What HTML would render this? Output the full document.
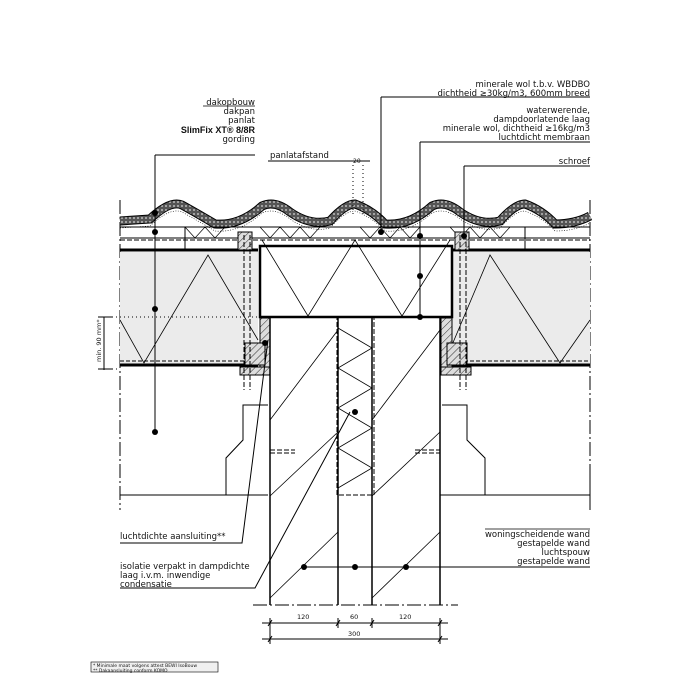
<!DOCTYPE html>
<html><head><meta charset="utf-8"><style>
html,body{margin:0;padding:0;background:#fff}
svg{display:block}
text{font-family:"DejaVu Sans","Liberation Sans",sans-serif;font-size:8.5px;fill:#111}
</style></head><body>
<svg width="700" height="700" viewBox="0 0 700 700" xmlns="http://www.w3.org/2000/svg">
<defs>
<pattern id="hatch" width="5" height="5" patternUnits="userSpaceOnUse" patternTransform="rotate(45)"><rect width="5" height="5" fill="#ddd"/><line x1="0" y1="0" x2="0" y2="5" stroke="#000" stroke-width="0.8"/></pattern>
<pattern id="tile" width="4" height="4" patternUnits="userSpaceOnUse"><rect width="4" height="4" fill="#555"/><circle cx="2" cy="2" r="1" fill="#bbb"/></pattern>
</defs>
<g stroke="#000" fill="none" stroke-width="1">
<line x1="120" y1="200" x2="120" y2="510" stroke-dasharray="14,3,2,3"/>
<line x1="590" y1="200" x2="590" y2="510" stroke-dasharray="14,3,2,3"/>
<path d="M120,221 L150,219 Q170,200 182,205 Q200,215 215,224 Q240,226 262,206 Q275,200 290,212 Q310,226 330,221 Q345,204 355,204 Q372,210 385,224 Q410,226 432,206 Q445,200 460,212 Q480,226 500,221 Q515,204 525,204 Q542,210 555,224 Q575,224 590,216" stroke="#000" stroke-width="9"/>
<path d="M120,221 L150,219 Q170,200 182,205 Q200,215 215,224 Q240,226 262,206 Q275,200 290,212 Q310,226 330,221 Q345,204 355,204 Q372,210 385,224 Q410,226 432,206 Q445,200 460,212 Q480,226 500,221 Q515,204 525,204 Q542,210 555,224 Q575,224 590,216" stroke="url(#tile)" stroke-width="7"/>
<path d="M120,228 L150,226 Q170,207 182,212 Q200,222 215,231 Q240,233 262,213 Q275,207 290,219 Q310,233 330,228 Q345,211 355,211 Q372,217 385,231 Q410,233 432,213 Q445,207 460,219 Q480,233 500,228 Q515,211 525,211 Q542,217 555,231 Q575,231 590,223" stroke-width="0.6" stroke-dasharray="1,1.5"/>
<line x1="120" y1="227" x2="590" y2="227"/>
<line x1="120" y1="238" x2="590" y2="238"/>
<line x1="120" y1="240" x2="590" y2="240" stroke-dasharray="5,2"/>
<path d="M185,227 L195,238 L205,227 L215,238 L225,227 M260,227 L270,238 L280,227 L290,238 L300,227 L310,238 L320,227 M360,227 L370,238 L380,227 L390,238 L400,227 L410,238 L420,227 M450,227 L460,238 L470,227 L480,238 L490,227 L500,238 L510,227" stroke-width="0.7"/>
<line x1="185" y1="227" x2="185" y2="250"/><line x1="525" y1="227" x2="525" y2="250"/>
<rect x="120" y="252" width="138" height="112" fill="#ebebeb" stroke="none"/>
<rect x="452" y="252" width="138" height="112" fill="#ebebeb" stroke="none"/>
<line x1="120" y1="250" x2="258" y2="250" stroke-width="3"/>
<line x1="120" y1="365" x2="258" y2="365" stroke-width="3"/>
<line x1="120" y1="361" x2="258" y2="361" stroke-dasharray="4,2"/>
<line x1="452" y1="250" x2="590" y2="250" stroke-width="3"/>
<line x1="452" y1="365" x2="590" y2="365" stroke-width="3"/>
<line x1="452" y1="361" x2="590" y2="361" stroke-dasharray="4,2"/>
<path d="M120,320 L144,363 L208,255 L258,340" stroke-width="0.8"/>
<path d="M452,345 L490,255 L560,363 L590,320" stroke-width="0.8"/>
<path d="M260,246 L260,317 L452,317 L452,246 Z" stroke-width="2.5"/>
<path d="M262,240 L308,316 L355,240 L402,316 L450,240" stroke-width="0.8"/>
<rect x="260" y="318" width="10" height="52" fill="url(#hatch)"/>
<rect x="441" y="318" width="11" height="52" fill="url(#hatch)"/>
<rect x="245" y="343" width="20" height="22" fill="url(#hatch)"/>
<rect x="447" y="343" width="20" height="22" fill="url(#hatch)"/>
<rect x="240" y="367" width="30" height="8" fill="url(#hatch)"/>
<rect x="441" y="367" width="30" height="8" fill="url(#hatch)"/>
<rect x="238" y="232" width="14" height="18" fill="url(#hatch)"/>
<rect x="455" y="232" width="14" height="18" fill="url(#hatch)"/>
<line x1="244" y1="235" x2="244" y2="390" stroke-dasharray="5,2"/>
<line x1="250" y1="235" x2="250" y2="390" stroke-dasharray="5,2"/>
<line x1="460" y1="235" x2="460" y2="390" stroke-dasharray="5,2"/>
<line x1="466" y1="235" x2="466" y2="390" stroke-dasharray="5,2"/>
<line x1="270" y1="317" x2="270" y2="605" stroke-width="1.5"/>
<line x1="338" y1="317" x2="338" y2="605" stroke-width="1.5"/>
<line x1="372" y1="317" x2="372" y2="605" stroke-width="1.5"/>
<line x1="440" y1="317" x2="440" y2="605" stroke-width="1.5"/>
<rect x="337" y="317" width="37" height="178" stroke-dasharray="5,2"/>
<path d="M338,328 L372,348 L338,368 L372,388 L338,408 L372,428 L338,448 L372,468 L338,488" stroke-width="0.8"/>
<path d="M270,496 L338,432 M270,598 L338,532 M372,496 L440,432 M372,598 L440,532 M270,420 L338,330 M372,420 L440,330" stroke-width="0.8"/>
<line x1="253" y1="605" x2="458" y2="605" stroke-dasharray="14,3,2,3"/>
<path d="M120,495 L268,495 M268,405 L243,405 L243,440 L226,458 L226,495" />
<path d="M440,495 L590,495 M442,405 L467,405 L467,440 L485,458 L485,495"/>
<line x1="270" y1="450" x2="295" y2="450" stroke-dasharray="5,2"/><line x1="270" y1="453" x2="295" y2="453" stroke-dasharray="5,2"/>
<line x1="415" y1="450" x2="440" y2="450" stroke-dasharray="5,2"/><line x1="415" y1="453" x2="440" y2="453" stroke-dasharray="5,2"/>
<line x1="100" y1="317" x2="260" y2="317" stroke-dasharray="1,3"/>
<line x1="353" y1="165" x2="353" y2="215" stroke-dasharray="1,3"/>
<line x1="363" y1="165" x2="363" y2="215" stroke-dasharray="1,3"/>
<line x1="104" y1="317" x2="104" y2="370"/>
<line x1="98" y1="317" x2="112" y2="317"/><line x1="98" y1="369" x2="112" y2="369"/>
<line x1="112" y1="369" x2="120" y2="369" stroke-dasharray="1,3"/>
<polyline points="155,155 255,155"/><line x1="155" y1="155" x2="155" y2="432"/>
<polyline points="268,161 370,161"/>
<polyline points="381,97 590,97"/><line x1="381" y1="97" x2="381" y2="232"/>
<polyline points="420,142 590,142"/><line x1="420" y1="142" x2="420" y2="317"/>
<polyline points="464,166 590,166"/><line x1="464" y1="166" x2="464" y2="240"/>
<polyline points="120,543 242,543 268,340"/>
<polyline points="120,588 255,588 350,412"/>
<line x1="304" y1="567" x2="590" y2="567"/>
<line x1="590" y1="475" x2="590" y2="510"/>
<line x1="262" y1="623" x2="448" y2="623"/>
<line x1="262" y1="639" x2="448" y2="639"/>
<path d="M270,618 V644 M338,618 V628 M372,618 V628 M440,618 V644" />
<path d="M268,626 L272,620 M336,626 L340,620 M370,626 L374,620 M438,626 L442,620 M268,642 L272,636 M438,642 L442,636"/>
<rect x="91" y="662" width="127" height="10" fill="#f0f0f0" stroke-width="0.6"/>
</g>
<g fill="#000">
<circle cx="155" cy="213" r="3"/><circle cx="155" cy="232" r="3"/><circle cx="155" cy="309" r="3"/><circle cx="155" cy="432" r="3"/>
<circle cx="381" cy="232" r="3"/><circle cx="420" cy="236" r="3"/><circle cx="420" cy="276" r="3"/><circle cx="420" cy="317" r="3"/>
<circle cx="464" cy="236" r="3"/><circle cx="265" cy="343" r="3"/><circle cx="355" cy="412" r="3"/>
<circle cx="304" cy="567" r="3"/><circle cx="355" cy="567" r="3"/><circle cx="406" cy="567" r="3"/>
</g>
<g text-anchor="end">
<text x="255" y="105">dakopbouw</text>
<text x="255" y="114">dakpan</text>
<text x="255" y="123">panlat</text>
<text x="255" y="133" style="font-family:'Liberation Sans',sans-serif;font-weight:bold;font-size:9px">SlimFix XT® 8/8R</text>
<text x="255" y="142">gording</text>
<text x="590" y="87">minerale wol t.b.v. WBDBO</text>
<text x="590" y="96">dichtheid ≥30kg/m3, 600mm breed</text>
<text x="590" y="113">waterwerende,</text>
<text x="590" y="122">dampdoorlatende laag</text>
<text x="590" y="131">minerale wol, dichtheid ≥16kg/m3</text>
<text x="590" y="140">luchtdicht membraan</text>
<text x="590" y="164">schroef</text>
<text x="590" y="537">woningscheidende wand</text>
<text x="590" y="546">gestapelde wand</text>
<text x="590" y="555">luchtspouw</text>
<text x="590" y="564">gestapelde wand</text>
</g>
<line x1="485" y1="529" x2="590" y2="529" stroke="#000" stroke-width="0.8"/>
<line x1="203" y1="106" x2="255" y2="106" stroke="#000" stroke-width="0.8"/>
<text x="270" y="158">panlatafstand</text>
<text x="353" y="163" style="font-size:6px">20</text>
<text x="120" y="539">luchtdichte aansluiting**</text>
<text x="120" y="569">isolatie verpakt in dampdichte</text>
<text x="120" y="578">laag i.v.m. inwendige</text>
<text x="120" y="587">condensatie</text>
<text x="297" y="619" style="font-size:6.5px">120</text>
<text x="350" y="619" style="font-size:6.5px">60</text>
<text x="399" y="619" style="font-size:6.5px">120</text>
<text x="348" y="636" style="font-size:6.5px">300</text>
<text transform="translate(101,362) rotate(-90)" style="font-size:6.5px">min. 90 mm*</text>
<text x="93" y="667" style="font-size:4.5px">* Minimale maat volgens attest BEWI IsoBouw</text>
<text x="93" y="672" style="font-size:4.5px">** Dakaansluiting conform KOMO</text>
</svg>
</body></html>
